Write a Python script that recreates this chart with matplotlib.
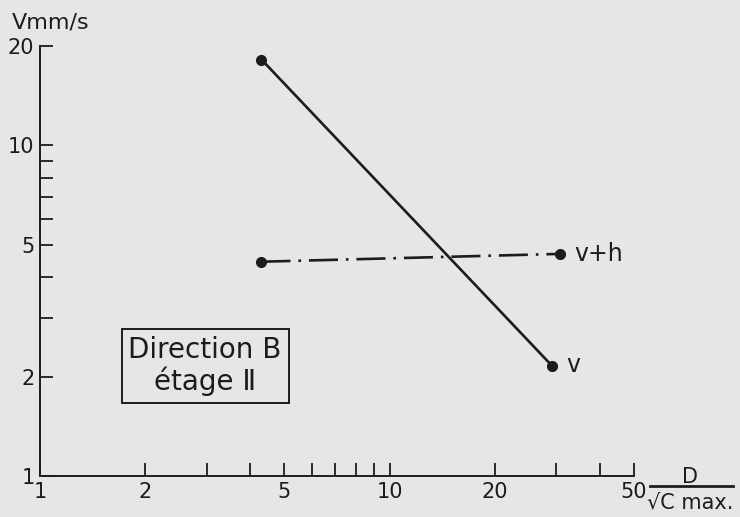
import matplotlib.pyplot as plt
from matplotlib.ticker import FixedLocator, FixedFormatter, NullFormatter
from matplotlib.lines import Line2D

# velocity v and v+h against reduced distance D / sqrt(C max)
v_x = [4.3, 29.2]
v_y = [18.2, 2.15]
vh_x = [4.3, 30.8]
vh_y = [4.45, 4.7]

x_major = [1, 2, 5, 10, 20, 50]
x_minor = [3, 4, 6, 7, 8, 9, 30, 40]
y_major = [1, 2, 5, 10, 20]
y_minor = [3, 4, 6, 7, 8, 9]

bg = '#e4e7e6'
ink = '#1c1c1c'

plt.rcParams['font.family'] = ['DejaVu Sans']

fig = plt.figure(figsize=(7.4, 5.17), dpi=100, facecolor=bg)
ax = fig.add_axes([40 / 740, 41 / 517, 594 / 740, 430 / 517])
ax.set_facecolor(bg)
ax.set_xscale('log')
ax.set_yscale('log')
ax.set_xlim(1, 50)
ax.set_ylim(1, 20)

for side in ('top', 'right'):
    ax.spines[side].set_visible(False)
for side in ('left', 'bottom'):
    ax.spines[side].set_color(ink)
    ax.spines[side].set_linewidth(1.4)

ax.xaxis.set_major_locator(FixedLocator(x_major))
ax.xaxis.set_major_formatter(FixedFormatter([str(t) for t in x_major]))
ax.xaxis.set_minor_locator(FixedLocator(x_minor))
ax.xaxis.set_minor_formatter(NullFormatter())
ax.yaxis.set_major_locator(FixedLocator(y_major))
ax.yaxis.set_major_formatter(FixedFormatter([str(t) for t in y_major]))
ax.yaxis.set_minor_locator(FixedLocator(y_minor))
ax.yaxis.set_minor_formatter(NullFormatter())

ax.tick_params(which='both', direction='in', length=9.5, width=1.3,
               color=ink, labelcolor=ink, labelsize=15, pad=4)

ax.plot(v_x, v_y, color=ink, lw=1.9, marker='o', ms=7, clip_on=False)
ax.plot(vh_x, vh_y, color=ink, lw=1.9, marker='o', ms=7,
        dashes=(11, 3, 1, 3), clip_on=False)

ax.annotate('v+h', (vh_x[-1], vh_y[-1]), xytext=(10, 0), textcoords='offset points',
            va='center', ha='left', fontsize=17, color=ink)
ax.annotate('v', (v_x[-1], v_y[-1]), xytext=(10, 1), textcoords='offset points',
            va='center', ha='left', fontsize=17, color=ink)

ax.text(0.278, 0.256, 'Direction B\nétage \u2161', transform=ax.transAxes,
        ha='center', va='center', fontsize=20, color=ink, linespacing=1.1,
        bbox=dict(boxstyle='square,pad=0.25', fc='none', ec=ink, lw=1.4))

# axis titles
fig.text(12 / 740, 1 - 23 / 517, 'Vmm/s', ha='left', va='center', fontsize=16, color=ink)
fig.text(690 / 740, 1 - 477 / 517, 'D', ha='center', va='center', fontsize=15, color=ink)
fig.add_artist(Line2D([650 / 740, 733 / 740], [1 - 486 / 517, 1 - 486 / 517],
                      transform=fig.transFigure, color=ink, lw=2))
fig.text(690 / 740, 1 - 503 / 517, '\u221aC max.', ha='center', va='center',
         fontsize=15, color=ink)

fig.savefig('out.png', dpi=100, facecolor=bg)
